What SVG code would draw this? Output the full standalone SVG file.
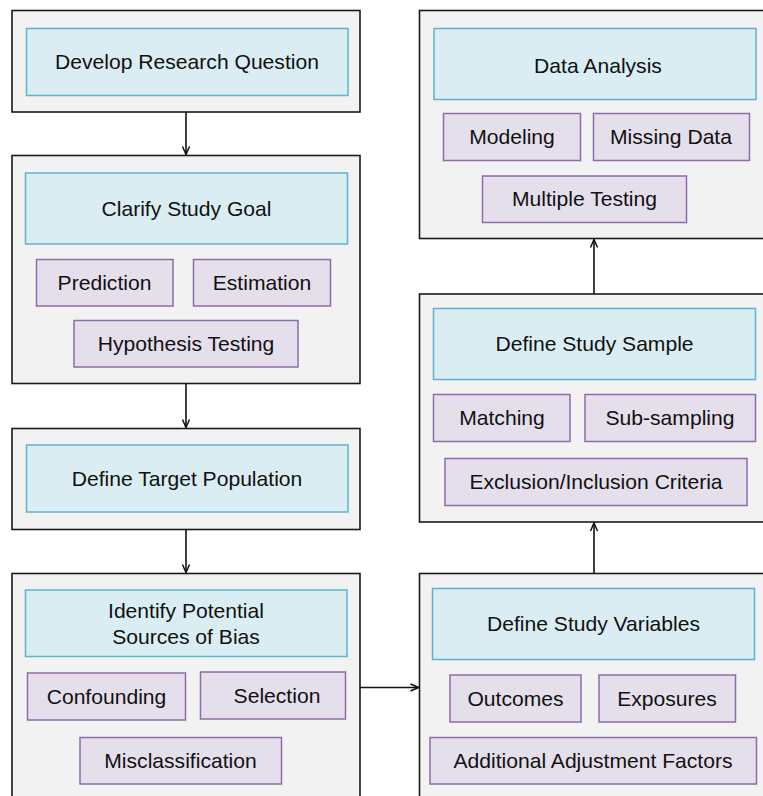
<svg xmlns="http://www.w3.org/2000/svg" width="763" height="796" viewBox="0 0 763 796">
<style>
.outer{fill:#f2f2f2;stroke:#1a1a1a;stroke-width:1.6}
.main{fill:#daedf2;stroke:#5bb5cc;stroke-width:1.5}
.sub{fill:#e4dfeb;stroke:#8e6bab;stroke-width:1.5}
text{font-family:"Liberation Sans",Arial,Helvetica,sans-serif;font-size:21.1px;fill:#111;text-anchor:middle}
.conn{fill:none;stroke:#111;stroke-width:1.6}
</style>
<defs>
<marker id="arr" viewBox="0 0 10 10" refX="9" refY="5" markerWidth="10" markerHeight="10" markerUnits="userSpaceOnUse" orient="auto">
<path d="M1,1.5 L9,5 L1,8.5" fill="none" stroke="#111" stroke-width="1.5"/>
</marker>
</defs>
<rect width="763" height="796" fill="#ffffff"/>

<g id="develop-research-question">
<rect class="outer" x="12" y="10.5" width="348" height="101.5"/>
<rect class="main" x="26.5" y="28.5" width="321.5" height="67"/>
<text x="187" y="69">Develop Research Question</text>
</g>

<g id="clarify-study-goal">
<rect class="outer" x="12" y="155.5" width="348" height="228"/>
<rect class="main" x="25.5" y="173" width="322" height="71"/>
<text x="186.5" y="215.5">Clarify Study Goal</text>
<rect class="sub" x="36.5" y="259.5" width="136.5" height="46.5"/>
<text x="104.5" y="289.5">Prediction</text>
<rect class="sub" x="193.5" y="259.5" width="137" height="46.5"/>
<text x="262" y="289.5">Estimation</text>
<rect class="sub" x="74" y="320.5" width="224" height="46.5"/>
<text x="186" y="350.5">Hypothesis Testing</text>
</g>

<g id="define-target-population">
<rect class="outer" x="12" y="428.5" width="348" height="101"/>
<rect class="main" x="26.5" y="445" width="321.5" height="67"/>
<text x="187" y="485.5">Define Target Population</text>
</g>

<g id="identify-bias">
<rect class="outer" x="12" y="573.5" width="348" height="240"/>
<rect class="main" x="25.5" y="590" width="321.5" height="66.5"/>
<text x="186" y="617.5">Identify Potential</text>
<text x="186" y="643.5">Sources of Bias</text>
<rect class="sub" x="27.5" y="673" width="158" height="47"/>
<text x="106.5" y="703.5">Confounding</text>
<rect class="sub" x="200.5" y="672" width="145" height="47"/>
<text x="277" y="702.5">Selection</text>
<rect class="sub" x="80" y="737.5" width="201.5" height="46.5"/>
<text x="180.5" y="767.5">Misclassification</text>
</g>

<g id="data-analysis">
<rect class="outer" x="419.5" y="10.5" width="360" height="228"/>
<rect class="main" x="434" y="28.5" width="322" height="71"/>
<text x="598" y="72.5">Data Analysis</text>
<rect class="sub" x="443.5" y="113.5" width="137" height="47"/>
<text x="512" y="144">Modeling</text>
<rect class="sub" x="593.5" y="113.5" width="156" height="47"/>
<text x="671" y="144">Missing Data</text>
<rect class="sub" x="482.5" y="176" width="204" height="46.5"/>
<text x="584.5" y="206">Multiple Testing</text>
</g>

<g id="define-study-sample">
<rect class="outer" x="419.5" y="294" width="360" height="228"/>
<rect class="main" x="433.5" y="308.5" width="322" height="71"/>
<text x="594.5" y="350.5">Define Study Sample</text>
<rect class="sub" x="433.5" y="394.5" width="136.5" height="47"/>
<text x="502" y="424.5">Matching</text>
<rect class="sub" x="585" y="394.5" width="170.5" height="47"/>
<text x="670" y="424.5">Sub-sampling</text>
<rect class="sub" x="445" y="458.5" width="302" height="47"/>
<text x="596" y="488.5">Exclusion/Inclusion Criteria</text>
</g>

<g id="define-study-variables">
<rect class="outer" x="419.5" y="573.5" width="360" height="240"/>
<rect class="main" x="432.5" y="588.5" width="322" height="71"/>
<text x="593.5" y="630.5">Define Study Variables</text>
<rect class="sub" x="450" y="675" width="131" height="47"/>
<text x="515.5" y="705.5">Outcomes</text>
<rect class="sub" x="599" y="675" width="136.5" height="47"/>
<text x="667" y="705.5">Exposures</text>
<rect class="sub" x="430" y="737.5" width="326.5" height="46.5"/>
<text x="593" y="767.5">Additional Adjustment Factors</text>
</g>

<g id="connectors">
<path class="conn" d="M186,112 V154.5" marker-end="url(#arr)"/>
<path class="conn" d="M186,383.5 V427.5" marker-end="url(#arr)"/>
<path class="conn" d="M186,529.5 V572.5" marker-end="url(#arr)"/>
<path class="conn" d="M360,687.5 H418.5" marker-end="url(#arr)"/>
<path class="conn" d="M594,573.5 V523" marker-end="url(#arr)"/>
<path class="conn" d="M594,294 V239.5" marker-end="url(#arr)"/>
</g>
</svg>
